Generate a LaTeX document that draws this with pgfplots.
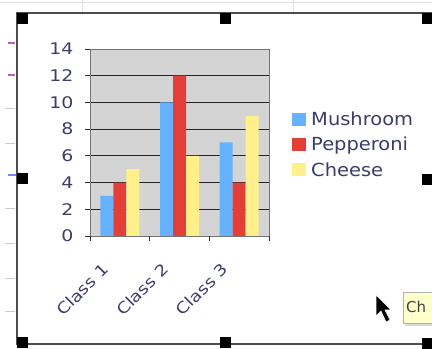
\documentclass[border=0pt]{standalone}
\usepackage{pgfplots}
\pgfplotsset{compat=1.18}
\usepackage{fontspec}
\setmainfont{DejaVu Sans}
\newfontfamily\tickfont[FakeStretch=1.18]{DejaVu Sans}
\newfontfamily\legfont[FakeStretch=1.08]{DejaVu Sans}
\definecolor{mush}{RGB}{102,178,255}
\definecolor{pepp}{RGB}{228,62,56}
\definecolor{chee}{RGB}{255,240,140}
\definecolor{txt}{RGB}{58,62,104}
\definecolor{plotbg}{RGB}{212,212,212}
\definecolor{tipbg}{RGB}{255,255,204}
\begin{document}
\begin{tikzpicture}
\useasboundingbox (0,0) rectangle (432bp,349bp);
\begin{scope}[x=1bp,y=-1bp,yshift=349bp]
  % spreadsheet behind
  \draw[black!12,line width=1bp] (0,3) -- (432,3);
  \draw[black!12] (82,0)--(82,12) (293,0)--(293,12);
  \foreach \yy in {108,143,208,243,278,311} \draw[black!20] (5,\yy)--(15,\yy);
  \fill[violet!60] (8,42) rectangle (15,44);
  \fill[violet!60] (8,74) rectangle (15,76);
  \fill[blue!50] (8,174) rectangle (17,176);
  % chart frame
  \fill[white] (17,13) rectangle (440,345);
  \draw[black!70,line width=1.2bp] (440,13) -- (17,13) -- (17,344) -- (440,344);
  % handles
  \foreach \hx/\hy in {17/13,17/173,17/337,220/13,220/337,422/13,422/174,422/338}
    \fill[black] (\hx,\hy) rectangle ++(11,11);
\end{scope}
\begin{axis}[
  at={(90bp,113bp)}, anchor=south west,
  scale only axis, width=179bp, height=187bp,
  xmin=-0.5, xmax=2.5, ymin=0, ymax=14,
  ybar=0pt, bar width=13bp,
  axis background/.style={fill=plotbg},
  ymajorgrids, grid style={black!85, line width=0.8bp},
  axis line style={black!55},
  ytick={0,2,...,14},
  /pgf/number format/assume math mode=true,
  tick pos=left, tick align=outside, major tick length=5bp,
  tick style={black!80, line width=0.8bp},
  xtick={0,1,2}, xticklabels={Class 1,Class 2,Class 3},
  xtick style={draw=none},
  extra x ticks={-0.5,0.5,1.5,2.5}, extra x tick labels={},
  extra x tick style={grid=none, xtick style={draw=black!80}},
  yticklabel style={font=\tickfont\fontsize{16bp}{16bp}\selectfont, text=txt, xshift=-8bp},
  xticklabel style={font=\tickfont\fontsize{15.5bp}{15.5bp}\selectfont, text=txt, rotate=45, anchor=east, inner sep=0pt, xshift=-27.6bp, yshift=-7.8bp},
  legend style={at={(1.112,0.685)}, anchor=north west, draw=none, fill=none,
    font=\legfont\fontsize{18bp}{18bp}\selectfont, text=txt, row sep=6bp,
    nodes={inner xsep=5bp}},
  legend cell align=left,
]
\addplot[fill=mush, draw=none, legend image code/.code={\fill[mush] (-1bp,-6.5bp) rectangle (13bp,6.5bp);}] coordinates {(0,3) (1,10) (2,7)};
\addplot[fill=pepp, draw=none, legend image code/.code={\fill[pepp] (-1bp,-6.5bp) rectangle (13bp,6.5bp);}] coordinates {(0,4) (1,12) (2,4)};
\addplot[fill=chee, draw=none, legend image code/.code={\fill[chee] (-1bp,-6.5bp) rectangle (13bp,6.5bp);}] coordinates {(0,5) (1,6) (2,9)};
\legend{Mushroom,Pepperoni,Cheese}
\end{axis}
\begin{scope}[x=1bp,y=-1bp,yshift=349bp]
  % tooltip
  \fill[black!15] (405,295) rectangle (440,326);
  \filldraw[fill=tipbg, draw=black!30] (403,292) rectangle (440,323);
  \node[anchor=west, inner sep=0pt, text=black!75, font=\fontsize{15bp}{15bp}\selectfont] at (406,307) {Ch};
  % cursor
  \filldraw[fill=black, draw=white, line width=0.6bp] (376,295) -- (376,316) -- (381,311) -- (386,322) -- (390,320) -- (385,310) -- (391,310) -- cycle;
\end{scope}
\end{tikzpicture}
\end{document}
